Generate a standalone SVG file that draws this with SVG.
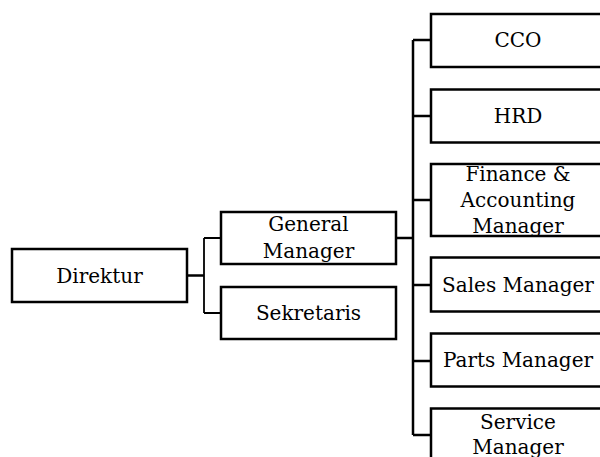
<svg xmlns="http://www.w3.org/2000/svg" width="600" height="457" viewBox="0 0 600 457">
<style>
.box{fill:#fff;stroke:#000;stroke-width:2.5}
.t{font-family:"DejaVu Serif","Liberation Serif",serif;font-size:20px;fill:#000;text-anchor:middle}
.c{fill:none;stroke:#000;stroke-width:2.5}
.c2{fill:none;stroke:#000;stroke-width:1.8}
</style>
<rect width="600" height="457" fill="#fff"/>
<g id="connectors">
<path class="c" d="M187 275.5H204"/>
<path class="c2" d="M204 238V313M204 238H221M204 313H221"/>
<path class="c" d="M396 238H413"/>
<path class="c" d="M413 40V435M413 40H431M413 116H431M413 200H431M413 285H431M413 361H431M413 435H431"/>
</g>
<g id="direktur"><rect class="box" x="12" y="249" width="175" height="53"/><text class="t" x="99.5" y="283">Direktur</text></g>
<g id="general-manager"><rect class="box" x="221" y="212" width="175" height="52"/><text class="t" x="308.5" y="231">General</text><text class="t" x="308.5" y="258">Manager</text></g>
<g id="sekretaris"><rect class="box" x="221" y="287" width="175" height="52"/><text class="t" x="308.5" y="320">Sekretaris</text></g>
<g id="cco"><rect class="box" x="431" y="14" width="175" height="53"/><text class="t" x="518" y="47">CCO</text></g>
<g id="hrd"><rect class="box" x="431" y="89.5" width="175" height="53"/><text class="t" x="518" y="123">HRD</text></g>
<g id="finance"><rect class="box" x="431" y="164" width="175" height="72"/><text class="t" x="518" y="181">Finance &amp;</text><text class="t" x="518" y="207">Accounting</text><text class="t" x="518" y="233">Manager</text></g>
<g id="sales"><rect class="box" x="431" y="257.5" width="175" height="54"/><text class="t" x="518" y="291.5">Sales Manager</text></g>
<g id="parts"><rect class="box" x="431" y="333.5" width="175" height="53"/><text class="t" x="518" y="367">Parts Manager</text></g>
<g id="service"><rect class="box" x="431" y="408.5" width="175" height="54"/><text class="t" x="518" y="429">Service</text><text class="t" x="518" y="454">Manager</text></g>
</svg>
